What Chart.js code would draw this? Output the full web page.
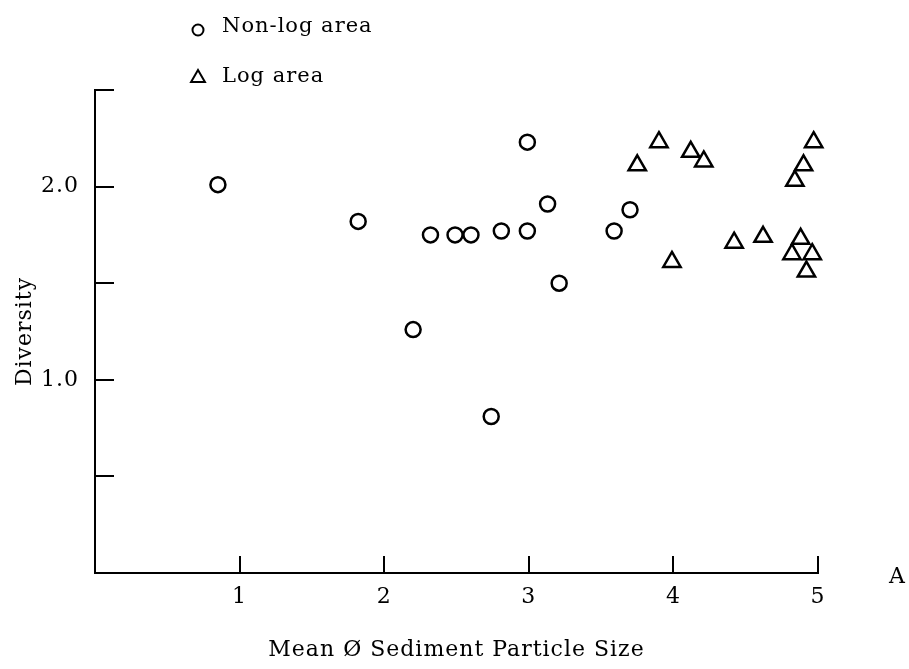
<!DOCTYPE html>
<html>
<head>
<meta charset="utf-8">
<script src="https://cdn.jsdelivr.net/npm/chart.js@4"></script>
<style>
  body { margin: 0; background: #fff; }
  #wrap { width: 909px; height: 669px; }
</style>
</head>
<body>
<div id="wrap"><canvas id="chart" width="909" height="669"></canvas></div>
<script>
// values
const nonLogX = [0.85, 1.82, 2.32, 2.49, 2.60, 2.81, 2.99, 2.99, 3.13, 3.21, 2.20, 2.74, 3.59, 3.70];
const nonLogY = [2.01, 1.82, 1.75, 1.75, 1.75, 1.77, 1.77, 2.23, 1.91, 1.50, 1.26, 0.81, 1.77, 1.88];
const logX = [3.90, 3.75, 4.12, 4.21, 4.97, 4.90, 4.84, 3.99, 4.42, 4.62, 4.88, 4.82, 4.96, 4.92];
const logY = [2.23, 2.11, 2.18, 2.13, 2.23, 2.11, 2.03, 1.61, 1.71, 1.74, 1.73, 1.65, 1.65, 1.56];

const xTicks = [1, 2, 3, 4, 5];
const yTicks = [0.5, 1.0, 1.5, 2.0, 2.5];
const yTickLabels = ['', '1.0', '', '2.0', ''];

const seriesNames = ['Non-log area', 'Log area'];
const xTitle = 'Mean Ø Sediment Particle Size';
const yTitle = 'Diversity';
const panelLetter = 'A';

const FONT = '"DejaVu Serif", "Liberation Serif", serif';

const toPoints = (xs, ys) => xs.map((x, i) => ({x: x, y: ys[i]}));

// tick marks point inward, legend is stacked in the top-left corner
const figureBits = {
    id: 'figureBits',
    beforeDraw(chart) {
        // typewriter look: a little air between letters
        chart.ctx.letterSpacing = '1px';
    },
    afterDraw(chart) {
        const ctx = chart.ctx;
        const xs = chart.scales.x;
        const ys = chart.scales.y;
        const area = chart.chartArea;

        ctx.save();
        ctx.strokeStyle = '#000';
        ctx.lineWidth = 2;
        ctx.beginPath();
        xTicks.forEach(v => {
            const px = Math.round(xs.getPixelForValue(v));
            ctx.moveTo(px, area.bottom);
            ctx.lineTo(px, area.bottom - 17);
        });
        yTicks.forEach(v => {
            const py = Math.round(ys.getPixelForValue(v));
            ctx.moveTo(area.left, py);
            ctx.lineTo(area.left + 19, py);
        });
        ctx.stroke();

        // legend
        ctx.font = '21px ' + FONT;
        ctx.textBaseline = 'middle';
        chart.data.datasets.forEach((ds, i) => {
            const y = 27 + i * 50;
            ctx.fillStyle = '#fff';
            ctx.strokeStyle = '#000';
            Chart.helpers.drawPoint(ctx, {
                pointStyle: ds.pointStyle,
                radius: ds.pointStyle === 'triangle' ? 8 : 5.5,
                borderWidth: 2.4
            }, 198, y + (ds.pointStyle === 'triangle' ? 1 : 3));
            ctx.fillStyle = '#000';
            ctx.fillText(ds.label, 222, y);
        });

        ctx.font = '22px ' + FONT;
        ctx.fillText(panelLetter, 889, 577);
        ctx.restore();
    }
};

const chart = new Chart(document.getElementById('chart'), {
    type: 'scatter',
    data: {
        datasets: [{
            label: seriesNames[0],
            data: toPoints(nonLogX, nonLogY),
            pointStyle: 'circle',
            pointRadius: 7.5,
            borderWidth: 2.5,
            borderColor: '#000',
            backgroundColor: '#fff',
            clip: false
        }, {
            label: seriesNames[1],
            data: toPoints(logX, logY),
            pointStyle: 'triangle',
            pointRadius: 10,
            borderWidth: 2.5,
            borderColor: '#000',
            backgroundColor: '#fff',
            clip: false
        }]
    },
    options: {
        responsive: false,
        animation: false,
        events: [],
        layout: {padding: {top: 90, right: 91, left: 0, bottom: 0}},
        plugins: {legend: {display: false}, tooltip: {enabled: false}},
        scales: {
            x: {
                type: 'linear',
                min: 0,
                max: 5,
                afterBuildTicks: s => { s.ticks = xTicks.map(v => ({value: v})); },
                afterFit: s => { s.height = 96; },
                grid: {display: false},
                border: {display: true, color: '#000', width: 2},
                ticks: {color: '#000', padding: 3, maxRotation: 0, font: {family: FONT, size: 22}},
                title: {display: true, text: xTitle, color: '#000', padding: {top: 0, bottom: 6},
                        font: {family: FONT, size: 22}}
            },
            y: {
                type: 'linear',
                min: 0,
                max: 2.5,
                afterBuildTicks: s => { s.ticks = yTicks.map(v => ({value: v})); },
                afterFit: s => { s.width = 95; },
                grid: {display: false},
                border: {display: true, color: '#000', width: 2},
                ticks: {
                    color: '#000', padding: 8, font: {family: FONT, size: 22},
                    callback: v => yTickLabels[yTicks.indexOf(v)]
                },
                title: {display: true, text: yTitle, color: '#000', padding: {top: 12, bottom: 0},
                        font: {family: FONT, size: 22}}
            }
        }
    },
    plugins: [figureBits]
});
</script>
</body>
</html>
